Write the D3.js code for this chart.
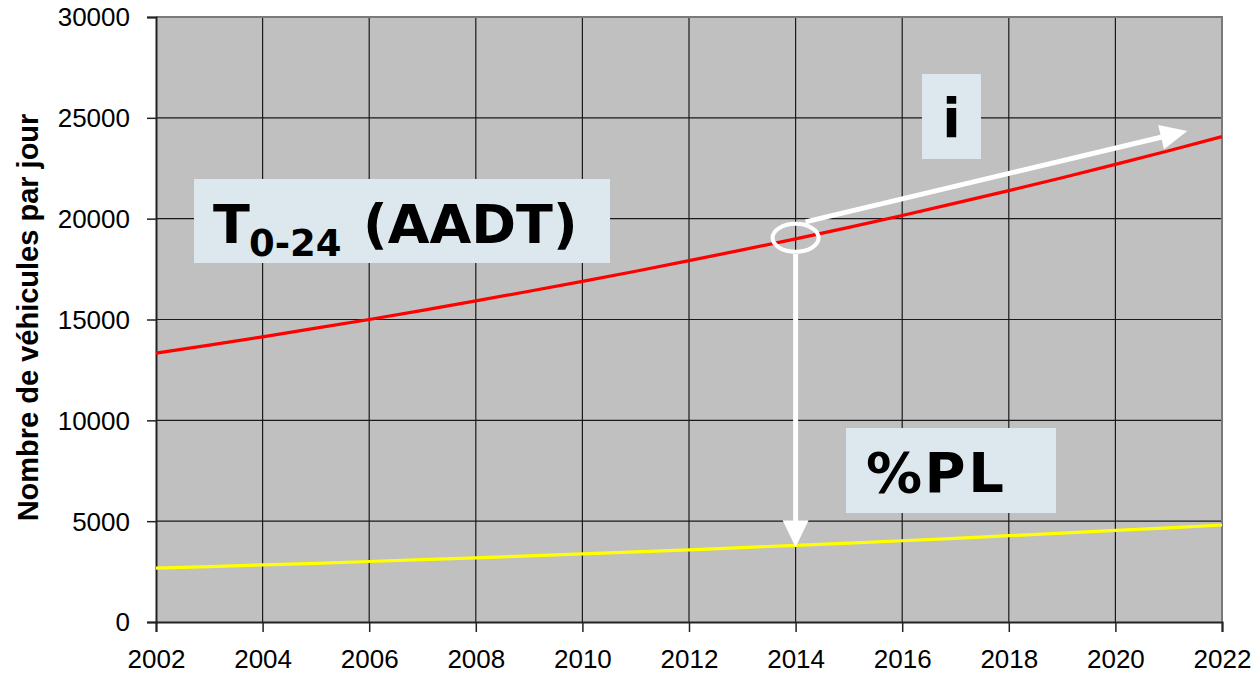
<!DOCTYPE html>
<html>
<head>
<meta charset="utf-8">
<script src="https://cdn.jsdelivr.net/npm/d3@7"></script>
<style>
  body { margin: 0; background: #fff; }
  svg { display: block; }
</style>
</head>
<body>
<div id="graphe"></div>
<script>
// Données
const annees = d3.range(2002, 2023);
const trafic = [13330, 13730, 14140, 14570, 15000, 15450, 15920, 16400, 16890, 17390,
                17920, 18450, 19000, 19570, 20160, 20770, 21390, 22030, 22690, 23370, 24070];
const poidsLourds = [2670, 2750, 2830, 2910, 3000, 3090, 3180, 3280, 3380, 3480,
                     3580, 3690, 3800, 3910, 4030, 4150, 4280, 4410, 4540, 4670, 4810];
const ticksX = [2002, 2004, 2006, 2008, 2010, 2012, 2014, 2016, 2018, 2020, 2022];
const ticksY = [0, 5000, 10000, 15000, 20000, 25000, 30000];

const largeur = 1256, hauteur = 680;
const marge = {haut: 17, droite: 34, bas: 58, gauche: 156};

const svg = d3.select("#graphe").append("svg")
    .attr("width", largeur).attr("height", hauteur);

const x = d3.scaleLinear().domain([2002, 2022]).range([marge.gauche, largeur - marge.droite]);
const y = d3.scaleLinear().domain([0, 30000]).range([hauteur - marge.bas, marge.haut]);

// Fond gris de la zone de tracé
svg.append("rect")
    .attr("x", x(2002)).attr("y", y(30000))
    .attr("width", x(2022) - x(2002)).attr("height", y(0) - y(30000))
    .attr("fill", "#c0c0c0");

// Grille
svg.append("g").selectAll("line").data(ticksX.slice(1, -1)).join("line")
    .attr("x1", d => x(d)).attr("x2", d => x(d))
    .attr("y1", y(0)).attr("y2", y(30000))
    .attr("stroke", "#1a1a1a").attr("stroke-width", 1.2);
svg.append("g").selectAll("line").data(ticksY.slice(1, -1)).join("line")
    .attr("x1", x(2002)).attr("x2", x(2022))
    .attr("y1", d => y(d)).attr("y2", d => y(d))
    .attr("stroke", "#1a1a1a").attr("stroke-width", 1.2);

// Bord haut et droit
svg.append("path")
    .attr("d", `M${x(2002)},${y(30000)}H${x(2022)}V${y(0)}`)
    .attr("fill", "none").attr("stroke", "#7a7a7a").attr("stroke-width", 2);

// Axes
const axeX = svg.append("g")
    .attr("transform", `translate(0,${y(0)})`)
    .call(d3.axisBottom(x).tickValues(ticksX).tickFormat(d3.format("d")).tickSize(10).tickPadding(18));
const axeY = svg.append("g")
    .attr("transform", `translate(${x(2002)},0)`)
    .call(d3.axisLeft(y).tickValues(ticksY).tickFormat(d3.format("d")).tickSize(9).tickPadding(17));
[axeX, axeY].forEach(a => {
    a.select(".domain").attr("stroke", "#222").attr("stroke-width", 2);
    a.selectAll(".tick line").attr("stroke", "#222").attr("stroke-width", 1.5);
    a.selectAll("text").attr("font-family", "Liberation Sans, Arial, sans-serif")
        .attr("font-size", 26).attr("fill", "#000");
});
axeY.selectAll("text").attr("dy", "0.34em");

// Titre de l'axe Y
svg.append("text")
    .attr("transform", `translate(38,${(y(0) + y(30000)) / 2 - 2}) rotate(-90)`)
    .attr("text-anchor", "middle")
    .attr("font-family", "Liberation Sans, Arial, sans-serif")
    .attr("font-weight", "bold").attr("font-size", 29)
    .text("Nombre de véhicules par jour");

// Courbes
const ligne = serie => d3.line().x((d, i) => x(annees[i])).y(d => y(d))(serie);
svg.append("path").attr("d", ligne(trafic))
    .attr("fill", "none").attr("stroke", "#ff0000").attr("stroke-width", 3.2);
svg.append("path").attr("d", ligne(poidsLourds))
    .attr("fill", "none").attr("stroke", "#ffff00").attr("stroke-width", 3.2);

// Annotations
const police = "DejaVu Sans, Verdana, sans-serif";
const bleu = "#dde8ee";

function boite(x0, y0, w, h) {
    svg.append("rect").attr("x", x0).attr("y", y0).attr("width", w).attr("height", h).attr("fill", bleu);
}

boite(194, 179, 416, 84);
svg.append("text").attr("x", 213).attr("y", 243)
    .attr("font-family", police).attr("font-weight", "bold").attr("font-size", 54)
    .text("T");
svg.append("text").attr("x", 249).attr("y", 256)
    .attr("font-family", police).attr("font-weight", "bold").attr("font-size", 37)
    .text("0-24");
svg.append("text").attr("x", 363).attr("y", 243)
    .attr("font-family", police).attr("font-weight", "bold").attr("font-size", 54)
    .text("(AADT)");

boite(922, 74, 59, 85);
svg.append("text").attr("x", 951.5).attr("y", 137).attr("text-anchor", "middle")
    .attr("font-family", police).attr("font-weight", "bold").attr("font-size", 54)
    .text("i");

boite(846, 428, 210, 85);
svg.append("text").attr("x", 866).attr("y", 492)
    .attr("font-family", police).attr("font-weight", "bold").attr("font-size", 56)
    .attr("letter-spacing", 2.5)
    .text("%PL");

// Flèche blanche avec tête triangulaire
function fleche(xa, ya, xb, yb, longTete, demiLarg) {
    const dx = xb - xa, dy = yb - ya, L = Math.hypot(dx, dy);
    const ux = dx / L, uy = dy / L;
    const bx = xb - ux * longTete, by = yb - uy * longTete;
    svg.append("line").attr("x1", xa).attr("y1", ya).attr("x2", bx + ux).attr("y2", by + uy)
        .attr("stroke", "#fff").attr("stroke-width", 5);
    svg.append("polygon")
        .attr("points", [[xb, yb], [bx - uy * demiLarg, by + ux * demiLarg], [bx + uy * demiLarg, by - ux * demiLarg]].join(" "))
        .attr("fill", "#fff");
}

const cx = x(2014), cy = y(trafic[12]) - 1;
svg.append("ellipse").attr("cx", cx).attr("cy", cy).attr("rx", 23).attr("ry", 14)
    .attr("fill", "none").attr("stroke", "#fff").attr("stroke-width", 4);

fleche(cx + 10, cy - 16, x(2021.35), y(24350), 27, 12.5);
fleche(cx, cy + 16, cx, y(poidsLourds[12]) + 2, 27, 13);
</script>
</body>
</html>
